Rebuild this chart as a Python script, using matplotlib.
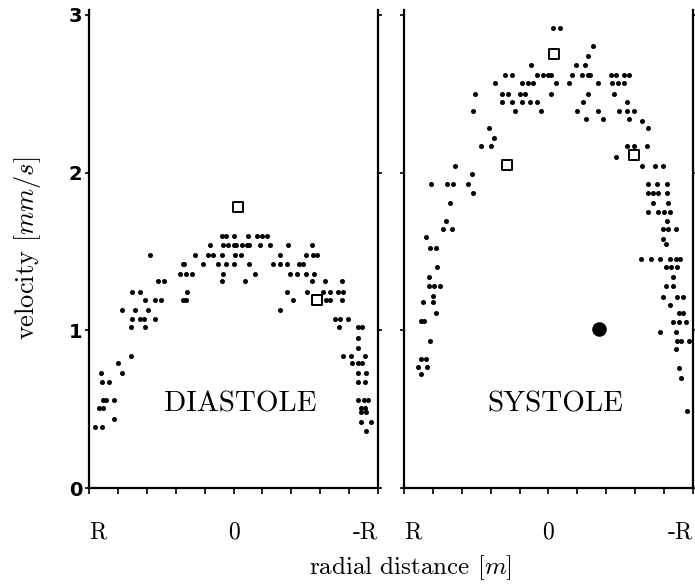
import matplotlib
matplotlib.use("Agg")
import matplotlib.pyplot as plt

plt.rcParams['font.family'] = ['cmr10', 'DejaVu Serif']
plt.rcParams['mathtext.fontset'] = 'cm'
plt.rcParams['axes.unicode_minus'] = False

# radial position (R = 1 ... -R = -1) and velocity [mm/s]
dia_r = [0.08, 0.05, 0.00, -0.10, -0.16, -0.20, -0.23,
         0.16, 0.07, 0.04, 0.00, -0.02, -0.06, -0.09, -0.11, -0.18, -0.25, -0.38, -0.54,
         0.58, 0.27, 0.18, 0.14, 0.08, -0.01, -0.05, -0.32, -0.50, -0.55, -0.58,
         0.35, 0.34, 0.21, 0.11, 0.05, 0.00, -0.11, -0.27, -0.32, -0.37, -0.45, -0.48,
         0.37, 0.33, 0.29, 0.07, -0.15, -0.39, -0.44, -0.50, -0.56,
         0.52, 0.48, 0.08, -0.08, -0.54, -0.63, -0.75,
         0.70, 0.65, 0.32, -0.37, -0.51, -0.62, -0.67, -0.72, -0.76,
         0.61, 0.54, 0.50, 0.35, 0.33, -0.41, -0.64, -0.67, -0.75,
         0.77, 0.68, 0.59, -0.32,
         0.70, 0.65, 0.62, 0.54, -0.70, -0.74, -0.79,
         0.71, 0.61, -0.73, -0.86, -0.89,
         -0.86, -0.86,
         0.71, -0.76, -0.81, -0.91,
         0.80, -0.82, -0.86, -0.89,
         0.92, 0.77, -0.86, -0.92,
         0.91, 0.86, -0.86, -0.91,
         0.90, 0.88, 0.83, -0.86, -0.90, -0.93,
         0.93, 0.90, -0.88, -0.91,
         -0.88, -0.92,
         0.83,
         -0.88, -0.95,
         0.96, 0.91,
         -0.92]
dia_v = [1.60] * 7 + [1.54] * 12 + [1.48] * 11 + [1.42] * 12 + [1.36] * 9 \
    + [1.31] * 7 + [1.24] * 9 + [1.19] * 9 + [1.13] * 4 + [1.07] * 7 \
    + [1.02] * 5 + [0.95, 0.89] + [0.84] * 4 + [0.79] * 4 + [0.73] * 4 \
    + [0.67] * 4 + [0.56] * 6 + [0.51] * 4 + [0.48] * 2 + [0.44] \
    + [0.42] * 2 + [0.39] * 2 + [0.36]

sys_r = [-0.03, -0.08,
         -0.31,
         -0.27,
         0.12, -0.19, -0.25,
         0.30, 0.25, 0.08, 0.04, 0.00, -0.02, -0.16, -0.23, -0.27, -0.29, -0.43, -0.47, -0.52, -0.56,
         0.37, 0.18, 0.14, 0.11, -0.05, -0.14, -0.34, -0.44, -0.48, -0.52,
         0.51, 0.32, 0.28, 0.20, 0.16, -0.02, -0.27, -0.45,
         0.32, 0.25, 0.18, 0.13, 0.08, -0.24, -0.54,
         0.52, 0.23, 0.05, -0.20, -0.34, -0.49, -0.54, -0.59,
         -0.26, -0.38, -0.56,
         -0.65,
         0.41, -0.69,
         0.38,
         0.47, 0.40, -0.54, -0.59, -0.68,
         -0.47,
         0.65, -0.65, -0.74, -0.79,
         0.53,
         0.81, 0.70, 0.66, 0.56, -0.69, -0.75, -0.82,
         0.52, -0.69, -0.72, -0.76, -0.82,
         0.68, -0.72, -0.83,
         -0.69, -0.76, -0.80, -0.84,
         0.71, -0.82,
         0.73, 0.67, -0.79, -0.83, -0.88,
         0.85,
         -0.79,
         -0.81,
         0.82, 0.78,
         -0.64, -0.71, -0.77, -0.84, -0.88, -0.91,
         0.77, -0.81, -0.85, -0.89,
         0.83, -0.86,
         0.83, 0.79, 0.75, -0.81, -0.86,
         0.80,
         -0.79, -0.89, -0.93,
         0.87, 0.80,
         -0.84,
         0.78, -0.90, -0.93,
         0.88, 0.86,
         -0.86, -0.90, -0.95,
         -0.77, -0.88,
         0.82, -0.89, -0.92, -0.97,
         -0.88,
         0.88, 0.85,
         0.90, 0.84,
         -0.90,
         0.88,
         -0.92,
         -0.96]
sys_v = [2.92] * 2 + [2.80, 2.74] + [2.68] * 3 + [2.62] * 14 + [2.57] * 10 \
    + [2.50] * 8 + [2.45] * 7 + [2.39] * 8 + [2.34] * 3 + [2.33] + [2.28] * 2 \
    + [2.22] + [2.17] * 5 + [2.10] + [2.04] * 4 + [1.99] + [1.93] * 7 \
    + [1.87] * 5 + [1.81] * 3 + [1.75] * 4 + [1.69] * 2 + [1.64] * 5 \
    + [1.59, 1.58, 1.55] + [1.52] * 2 + [1.45] * 6 + [1.40] * 4 + [1.34] * 2 \
    + [1.28] * 5 + [1.22] + [1.21] * 3 + [1.18] * 2 + [1.16] + [1.11] * 3 \
    + [1.06] * 2 + [1.05] * 3 + [0.99] * 2 + [0.93] * 4 + [0.88] \
    + [0.82] * 2 + [0.77] * 2 + [0.76, 0.72, 0.70, 0.49]

# open squares (model values)
dia_sq_r = [-0.03, -0.58]
dia_sq_v = [1.78, 1.19]
sys_sq_r = [-0.04, 0.29, -0.59]
sys_sq_v = [2.75, 2.05, 2.11]
# large filled dot
sys_dot_r = [-0.35]
sys_dot_v = [1.01]

x_ticks = [1.0, 0.8, 0.6, 0.4, 0.2, 0.0, -0.2, -0.4, -0.6, -0.8, -1.0]
x_labels = ['R', '', '', '', '', '0', '', '', '', '', '-R']

fig = plt.figure(figsize=(6.95, 5.85), dpi=100)
ax1 = fig.add_axes([0.1281, 0.1658, 0.4158, 0.8168])
ax2 = fig.add_axes([0.5813, 0.1658, 0.4158, 0.8168])

panels = [(ax1, dia_r, dia_v, dia_sq_r, dia_sq_v, 'DIASTOLE'),
          (ax2, sys_r, sys_v, sys_sq_r, sys_sq_v, 'SYSTOLE')]

for ax, r, v, sq_r, sq_v, name in panels:
    ax.scatter(r, v, s=13, c='k', marker='o', linewidths=0)
    ax.scatter(sq_r, sq_v, s=55, marker='s', facecolors='white',
               edgecolors='k', linewidths=1.4, zorder=3)
    ax.set_xlim(1.0, -1.0)
    ax.set_ylim(0, 3.03)
    ax.spines['top'].set_visible(False)
    for s in ['left', 'right', 'bottom']:
        ax.spines[s].set_linewidth(1.6)
    ax.set_xticks(x_ticks, x_labels, fontsize=17)
    ax.get_xticklabels()[0].set_ha('left')
    ax.get_xticklabels()[-1].set_ha('right')
    ax.set_yticks([0, 1, 2, 3])
    ax.tick_params(axis='x', direction='out', length=4, width=1.2, pad=20)
    ax.tick_params(axis='y', direction='out', length=3, width=1.2, pad=2,
                   right=True)
    ax.text(-0.05, 0.53, name, fontsize=21, ha='center', va='center')

ax2.scatter(sys_dot_r, sys_dot_v, s=110, c='k', marker='o', linewidths=0)

ax1.set_yticklabels(['0', '1', '2', '3'], family='DejaVu Sans',
                    fontweight='bold', fontsize=14)
ax2.set_yticklabels([])

fig.text(0.039, 0.576, 'velocity $[mm/s]$', rotation=90, fontsize=19,
         ha='center', va='center')
fig.text(0.591, 0.029, 'radial distance $[m]$', fontsize=18,
         ha='center', va='center')

fig.savefig('out.png', dpi=100)
